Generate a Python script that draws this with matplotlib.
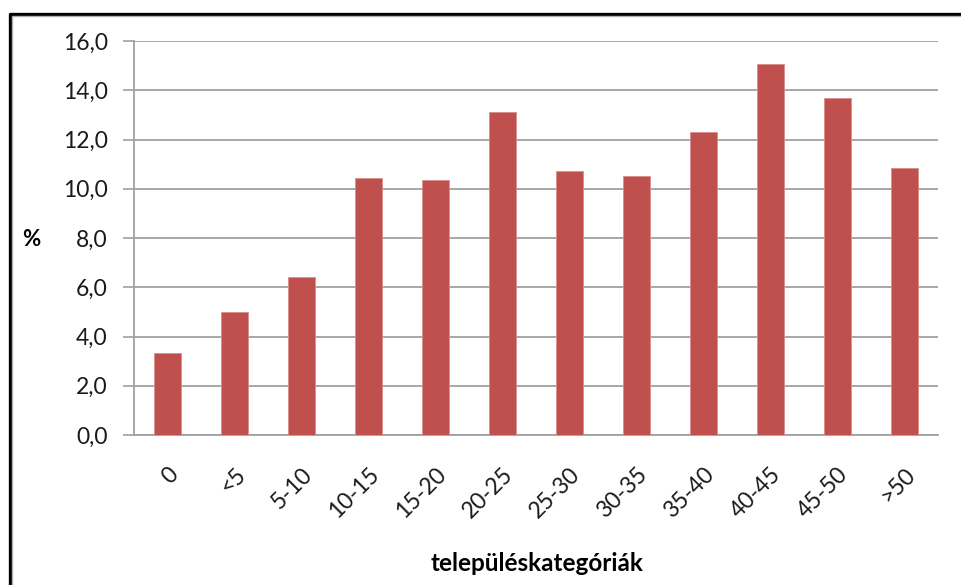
import matplotlib
matplotlib.use("Agg")
import matplotlib.pyplot as plt
from matplotlib.lines import Line2D
import numpy as np

categories = ["0", "<5", "5-10", "10-15", "15-20", "20-25", "25-30", "30-35",
              "35-40", "40-45", "45-50", ">50"]
values = [3.35, 4.98, 6.4, 10.42, 10.35, 13.12, 10.72, 10.5, 12.3, 15.05, 13.7, 10.84]
yticks = [0, 2, 4, 6, 8, 10, 12, 14, 16]
ytick_labels = ["0,0", "2,0", "4,0", "6,0", "8,0", "10,0", "12,0", "14,0", "16,0"]

plt.rcParams['font.family'] = ['Lato', 'DejaVu Sans']

W, H = 962, 585
fig = plt.figure(figsize=(W / 100, H / 100), dpi=100)
ax = fig.add_axes([134 / W, 1 - 435 / H, (938 - 134) / W, (435 - 41) / H])

x = np.arange(len(categories))
ax.bar(x, values, width=0.39, color="#C0504D", edgecolor="#D98E8C", linewidth=0.6, zorder=3)

ax.set_xlim(-0.5, len(categories) - 0.5)
ax.set_ylim(0, 16)
ax.set_yticks(yticks)
ax.set_yticklabels(ytick_labels, fontsize=16.5, color="#1a1a1a")
ax.set_xticks(x)
ax.set_xticklabels(categories, fontsize=16.5, rotation=45, ha="right",
                   rotation_mode="anchor", color="#1a1a1a")
ax.tick_params(axis="x", length=0, pad=21)
ax.tick_params(axis="y", length=8, width=1.2, color="#A0A0A0", pad=11)

ax.grid(axis="y", color="#A0A0A0", linewidth=1.3, zorder=0)
for s in ["top", "right"]:
    ax.spines[s].set_visible(False)
ax.spines["left"].set_color("#A0A0A0")
ax.spines["left"].set_linewidth(1.3)
ax.spines["bottom"].set_color("#A0A0A0")
ax.spines["bottom"].set_linewidth(1.3)

ax.set_xlabel("településkategóriák", fontsize=17.5, fontweight="bold")
ax.xaxis.set_label_coords((537 - 134) / (938 - 134), -(552 - 435) / (435 - 41))
fig.text(31 / W, 1 - 240 / H, "%", fontsize=16, fontweight="bold", ha="center", va="center")

# outer frame (left and top)
fig.add_artist(Line2D([9.5 / W, 9.5 / W, 1.0], [0.0, 1 - 13.5 / H, 1 - 13.5 / H],
                      color="black", linewidth=2.4, transform=fig.transFigure))
fig.add_artist(Line2D([12 / W, 12 / W, 1.0], [0.0, 1 - 16 / H, 1 - 16 / H],
                      color="#B0B0B0", linewidth=1.0, transform=fig.transFigure))

fig.savefig("out.png", dpi=100)
